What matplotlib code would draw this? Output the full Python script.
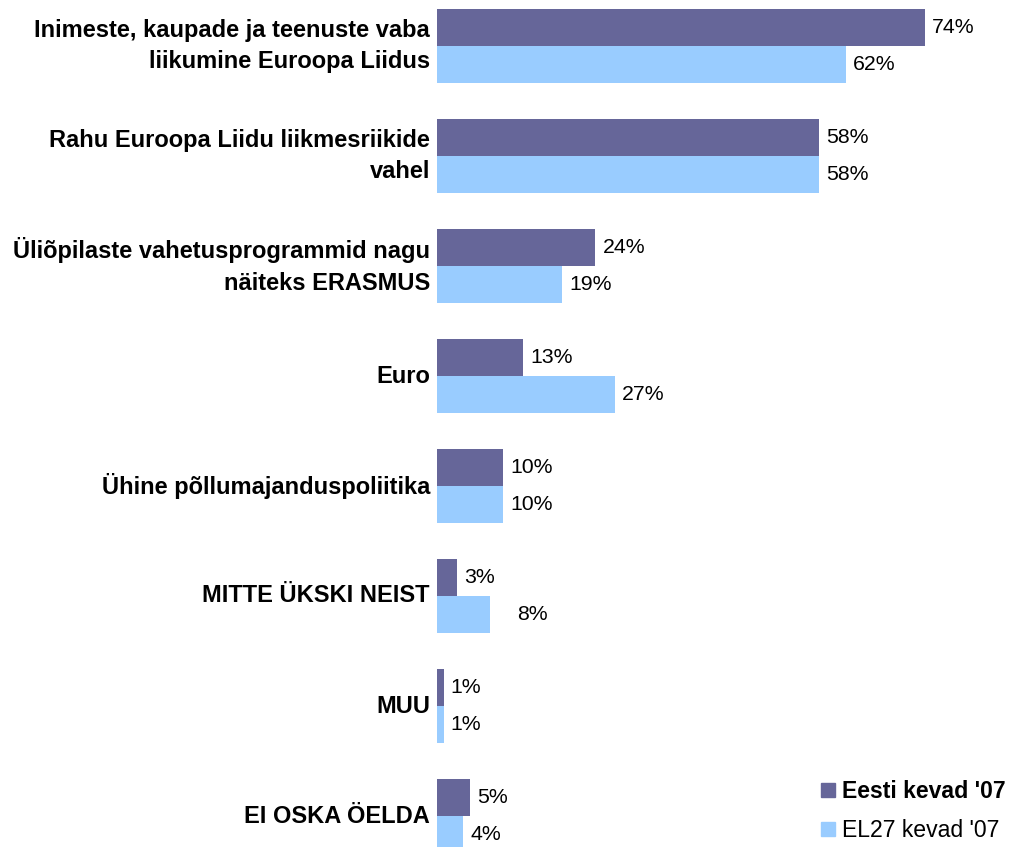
import matplotlib
matplotlib.use("Agg")
import matplotlib.pyplot as plt
import numpy as np
from matplotlib.lines import Line2D

categories = [
    "Inimeste, kaupade ja teenuste vaba\nliikumine Euroopa Liidus",
    "Rahu Euroopa Liidu liikmesriikide\nvahel",
    "Üliõpilaste vahetusprogrammid nagu\nnäiteks ERASMUS",
    "Euro",
    "Ühine põllumajanduspoliitika",
    "MITTE ÜKSKI NEIST",
    "MUU",
    "EI OSKA ÖELDA",
]
eesti = [74, 58, 24, 13, 10, 3, 1, 5]
el27 = [62, 58, 19, 27, 10, 8, 1, 4]
series_names = ["Eesti kevad '07", "EL27 kevad '07"]

c_dark = "#666699"
c_light = "#99ccff"

W, H = 1010, 847
fig = plt.figure(figsize=(W / 100, H / 100), dpi=100)
ax_left = 437
px_per_pct = 6.59
ax = fig.add_axes([ax_left / W, 0, (W - ax_left) / W, 1])
ax.set_xlim(0, (W - ax_left) / px_per_pct)
group_px = 110
first_px = 46
ax.set_ylim((H - first_px) / group_px, -first_px / group_px)

bh = 37 / group_px
y = np.arange(len(categories))
ax.barh(y - bh / 2, eesti, height=bh, color=c_dark, linewidth=0)
ax.barh(y + bh / 2, el27, height=bh, color=c_light, linewidth=0)

font = "Liberation Sans"
extra = {(1, 5): 3.0}
for i in range(len(categories)):
    for s, vals, yy in ((0, eesti, y[i] - bh / 2), (1, el27, y[i] + bh / 2)):
        v = vals[i]
        off = 1.1 + extra.get((s, i), 0)
        ax.text(v + off, yy, f"{v}%", va="center", ha="left",
                fontsize=15.3, family=font, color="black")
    fig.text(430 / W, 1 - (first_px + i * group_px) / H, categories[i],
             ha="right", va="center", fontsize=17.0, fontweight="bold",
             family=font, linespacing=1.45)

ax.axis("off")

handles = [Line2D([], [], marker="s", linestyle="none", markersize=10,
                  markerfacecolor=c_dark, markeredgecolor=c_dark),
           Line2D([], [], marker="s", linestyle="none", markersize=10,
                  markerfacecolor=c_light, markeredgecolor=c_light)]
leg = fig.legend(handles, series_names, loc="lower right",
                 bbox_to_anchor=(1.0, 0.0), frameon=False,
                 prop={"family": font, "size": 16.6}, handletextpad=0.15,
                 labelspacing=0.72, handlelength=0.9, borderaxespad=0.0,
                 borderpad=0.2)
leg.get_texts()[0].set_fontweight("bold")

fig.savefig("out.png", dpi=100)
